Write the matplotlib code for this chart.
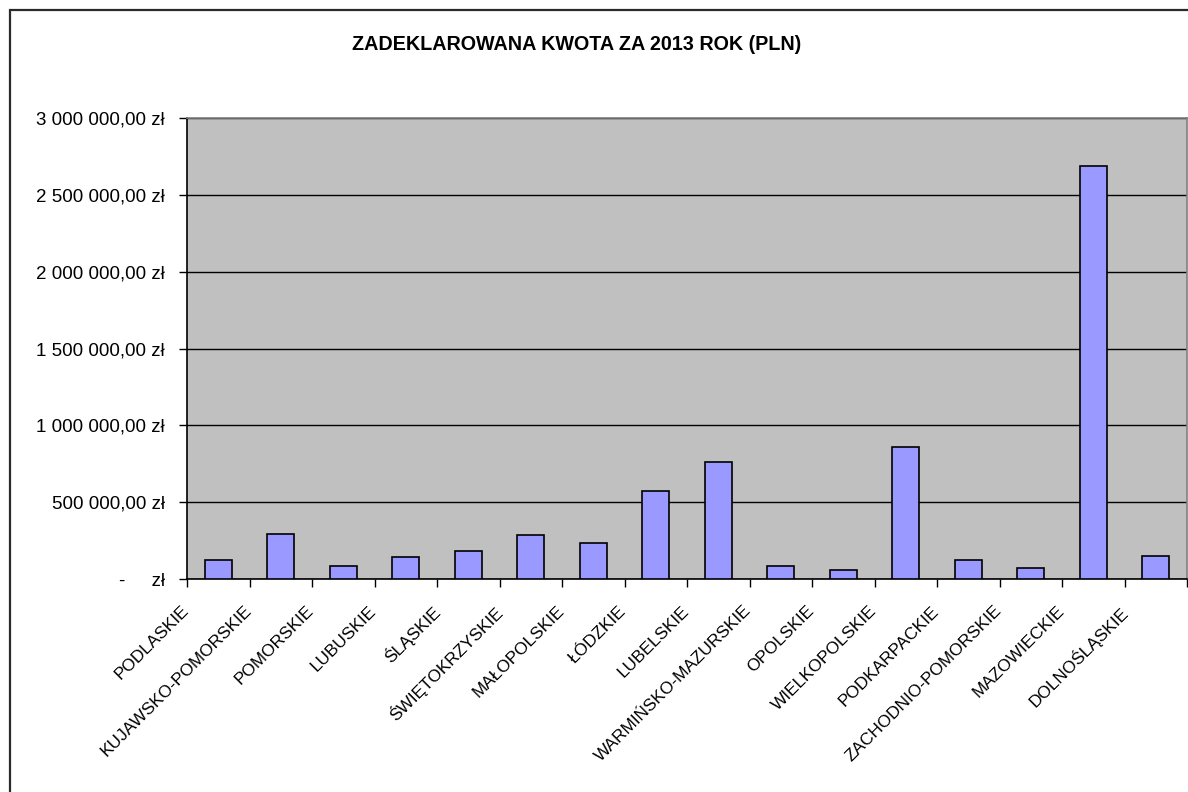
import matplotlib
matplotlib.use("Agg")
import matplotlib.pyplot as plt
import matplotlib.transforms as mtransforms
from matplotlib.patches import Rectangle
from matplotlib.ticker import FixedLocator


TITLE = "ZADEKLAROWANA KWOTA ZA 2013 ROK (PLN)"

REGIONS = [
    "PODLASKIE",
    "KUJAWSKO-POMORSKIE",
    "POMORSKIE",
    "LUBUSKIE",
    "ŚLĄSKIE",
    "ŚWIĘTOKRZYSKIE",
    "MAŁOPOLSKIE",
    "ŁÓDZKIE",
    "LUBELSKIE",
    "WARMIŃSKO-MAZURSKIE",
    "OPOLSKIE",
    "WIELKOPOLSKIE",
    "PODKARPACKIE",
    "ZACHODNIO-POMORSKIE",
    "MAZOWIECKIE",
    "DOLNOŚLĄSKIE",
]

AMOUNTS = [
    121000, 294000, 82000, 143000, 184000, 286000, 234000, 573000,
    764000, 82000, 60000, 857000, 121000, 71000, 2686000, 151000,
]

YTICKS = [0, 500000, 1000000, 1500000, 2000000, 2500000, 3000000]
YTICK_LABELS = [
    "-     zł",
    "500 000,00 zł",
    "1 000 000,00 zł",
    "1 500 000,00 zł",
    "2 000 000,00 zł",
    "2 500 000,00 zł",
    "3 000 000,00 zł",
]

plt.rcParams["font.family"] = ["Liberation Sans", "DejaVu Sans"]

fig = plt.figure(figsize=(11.88, 7.92), dpi=100)
fig.patch.set_facecolor("white")

# outer chart border (only top and left visible in the original crop)
fig.add_artist(Rectangle((10 / 1188, -0.05), 1.1, 1 - 10 / 792 + 0.05,
                         transform=fig.transFigure, fill=False,
                         edgecolor="#2a2a2a", linewidth=1.6))

ax = fig.add_axes([187 / 1188, 1 - 579 / 792, 1000 / 1188, 461 / 792])
ax.set_facecolor("#C0C0C0")

x = list(range(len(REGIONS)))
ax.bar(x, AMOUNTS, width=0.43, color="#9999FF", edgecolor="black",
       linewidth=1.2, zorder=3)

ax.set_xlim(-0.5, len(REGIONS) - 0.5)
ax.set_ylim(0, 3000000)
ax.set_yticks(YTICKS)
ax.set_yticklabels(YTICK_LABELS)
ax.yaxis.grid(True, color="black", linewidth=1.0, zorder=1)
ax.set_axisbelow(True)

ax.set_xticks(x)
ax.set_xticklabels(REGIONS, rotation=45, ha="right", va="top",
                   rotation_mode="anchor")
ax.xaxis.set_minor_locator(FixedLocator([i - 0.5 for i in range(len(REGIONS) + 1)]))
ax.tick_params(axis="x", which="major", length=0, pad=0, labelsize=12.4)
ax.tick_params(axis="x", which="minor", length=6, width=1.0, direction="out",
               color="black")
ax.tick_params(axis="y", length=6, width=1.0, direction="out", pad=10,
               labelsize=13.5)

offset = mtransforms.ScaledTranslation(-37 / 100, -24 / 100, fig.dpi_scale_trans)
for label in ax.get_xticklabels():
    label.set_transform(label.get_transform() + offset)

for side in ("top", "right"):
    ax.spines[side].set_color("#808080")
    ax.spines[side].set_linewidth(1.2)
for side in ("left", "bottom"):
    ax.spines[side].set_color("black")
    ax.spines[side].set_linewidth(1.2)

fig.text(577 / 1188, 1 - 45 / 792, TITLE, ha="center", va="center",
         fontsize=14.2, fontweight="bold")

fig.savefig("out.png", dpi=100)
